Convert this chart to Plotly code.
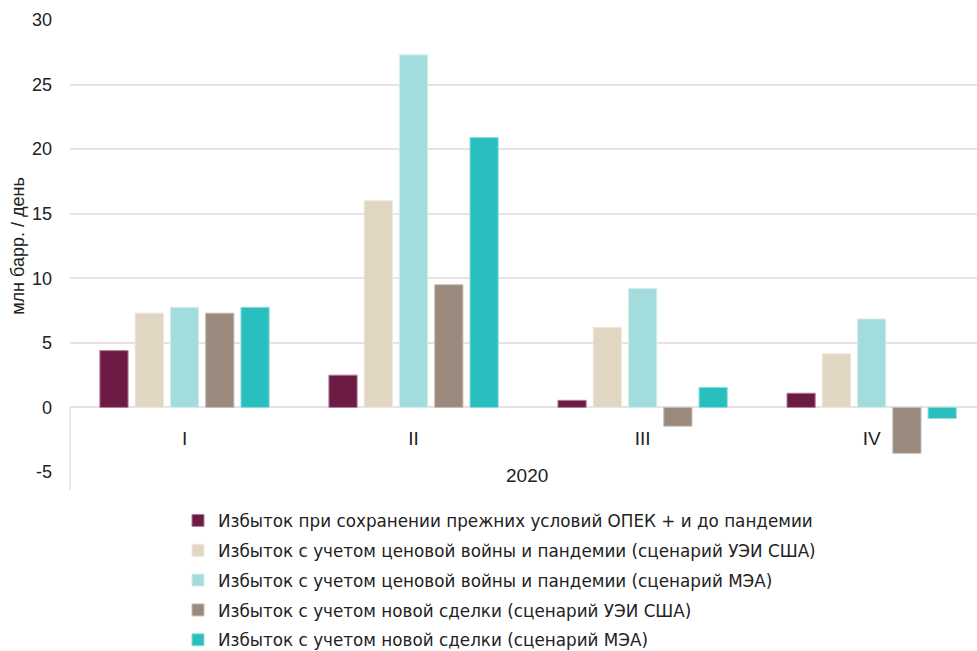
import plotly.graph_objects as go

quarters = ["I", "II", "III", "IV"]
year_label = "2020"

series_names = [
    "Избыток при сохранении прежних условий ОПЕК + и до пандемии",
    "Избыток с учетом ценовой войны и пандемии (сценарий УЭИ США)",
    "Избыток с учетом ценовой войны и пандемии (сценарий МЭА)",
    "Избыток с учетом новой сделки (сценарий УЭИ США)",
    "Избыток с учетом новой сделки (сценарий МЭА)",
]
pre_pandemic = [4.4, 2.5, 0.55, 1.1]
price_war_eia = [7.3, 16.0, 6.2, 4.15]
price_war_iea = [7.75, 27.3, 9.2, 6.85]
new_deal_eia = [7.3, 9.5, -1.45, -3.55]
new_deal_iea = [7.75, 20.9, 1.55, -0.85]

y_ticks = [-5, 0, 5, 10, 15, 20, 25, 30]
y_tick_text = ["-5", "0", "5", "10", "15", "20", "25", "30"]

series_values = [pre_pandemic, price_war_eia, price_war_iea, new_deal_eia, new_deal_iea]
colors = ["#6D1A45", "#E0D6C2", "#A3DCDC", "#9A8A7E", "#29BFBF"]
edge_colors = ["#B07F98", "#EEE8DC", "#D2EEEE", "#C6BCB4", "#8EDDDD"]

W, H = 977, 651
ml, mr, mt, mb = 70, 0, 20, 179
plot_w = W - ml - mr
plot_h = H - mt - mb
y_min, y_max = -5, 30
zero_frac = (0 - y_min) / (y_max - y_min)

grid_color = "#EAE1E3"
text_color = "#222222"
legend_font = "DejaVu Sans"
axis_font = "Liberation Sans"

fig = go.Figure()
for i, (name, vals) in enumerate(zip(series_names, series_values)):
    fig.add_trace(go.Bar(
        x=list(range(len(quarters))),
        y=vals,
        name=name,
        legendgroup=f"g{i}",
        marker=dict(color=colors[i], line=dict(color=edge_colors[i], width=1)),
        hoverinfo="y+name",
    ))

fig.update_layout(
    width=W, height=H,
    margin=dict(l=ml, r=mr, t=mt, b=mb, autoexpand=False),
    paper_bgcolor="white",
    plot_bgcolor="white",
    barmode="group",
    bargap=0.23,
    bargroupgap=0.2,
    font=dict(family=legend_font, color=text_color, size=16),
    showlegend=True,
    legend=dict(
        x=(178 - ml) / plot_w, xanchor="left", xref="paper",
        y=(H - mb - 503) / plot_h, yanchor="top", yref="paper",
        font=dict(size=16.8, family=legend_font, color=text_color),
        tracegroupgap=5,
        itemwidth=30,
        bgcolor="rgba(0,0,0,0)",
    ),
    xaxis=dict(
        range=[-0.5, 3.46],
        tickvals=list(range(len(quarters))),
        ticktext=quarters,
        anchor="free",
        position=zero_frac,
        showline=False,
        showgrid=False,
        zeroline=False,
        ticks="",
        ticklabelstandoff=18,
        tickfont=dict(size=19, family=axis_font, color=text_color),
    ),
    yaxis=dict(
        range=[y_min, y_max],
        tickvals=y_ticks,
        ticktext=y_tick_text,
        showgrid=True,
        gridcolor=grid_color,
        gridwidth=1.5,
        zeroline=True,
        zerolinecolor=grid_color,
        zerolinewidth=1.5,
        showline=False,
        ticks="",
        ticklabelstandoff=17,
        tickfont=dict(size=18, family=axis_font, color=text_color),
        title=dict(text="млн барр. / день", standoff=2,
                   font=dict(size=18, family=axis_font, color=text_color)),
    ),
)

# year label for the category group
fig.add_annotation(
    text=year_label, x=(527 - ml) / plot_w, xref="paper", y=-3 / plot_h, yref="paper",
    showarrow=False, font=dict(size=19, family=axis_font, color=text_color),
    xanchor="center", yanchor="middle",
)

# left divider of the category group, running from zero down past the labels
fig.add_shape(
    type="line", xref="paper", yref="paper",
    x0=0, x1=0, y0=zero_frac, y1=-18 / plot_h,
    line=dict(color=grid_color, width=1.5),
)

fig.write_html("out.html")
